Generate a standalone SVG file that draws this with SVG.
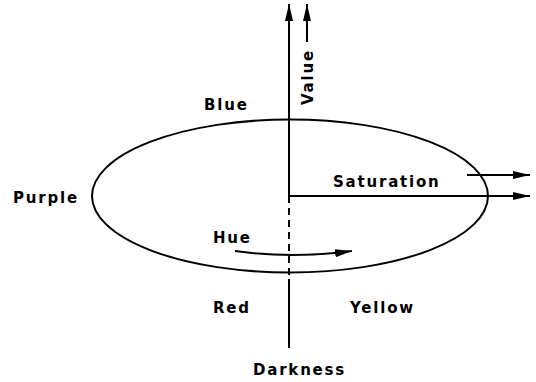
<svg xmlns="http://www.w3.org/2000/svg" width="536" height="382" viewBox="0 0 536 382">
<defs>
<marker id="ah" viewBox="0 0 17 9" refX="17" refY="4.5" markerWidth="17" markerHeight="9" markerUnits="userSpaceOnUse" orient="auto">
<path d="M0,0.5 L17,4.5 L0,8.5 Z" fill="#000"/>
</marker>
</defs>
<style>
text{font-family:"DejaVu Sans",sans-serif;font-size:15px;font-weight:bold;letter-spacing:1.8px;fill:#000}
.ln{stroke:#000;stroke-width:2;fill:none}
</style>
<rect width="536" height="382" fill="#fff"/>
<g id="ellipse"><ellipse class="ln" cx="290" cy="196" rx="198" ry="76.5"/></g>
<g id="connectors">
<line class="ln" x1="289" y1="196" x2="289" y2="4" marker-end="url(#ah)"/>
<line class="ln" x1="289" y1="196" x2="289" y2="276" stroke-dasharray="7,5"/>
<line class="ln" x1="289" y1="279" x2="289" y2="348"/>
<line class="ln" x1="307" y1="42" x2="307" y2="4" marker-end="url(#ah)"/>
<line class="ln" x1="289" y1="196" x2="530" y2="196" marker-end="url(#ah)"/>
<line class="ln" x1="467" y1="175" x2="530" y2="175" marker-end="url(#ah)"/>
<path class="ln" d="M235,251 Q292,259 352,251" marker-end="url(#ah)"/>
</g>
<g id="labels">
<text x="204" y="110">Blue</text>
<text x="13" y="203">Purple</text>
<text x="333" y="187">Saturation</text>
<text x="213" y="243">Hue</text>
<text x="213" y="313">Red</text>
<text x="350" y="313">Yellow</text>
<text x="253" y="375">Darkness</text>
<text transform="translate(313,105) rotate(-90)">Value</text>
</g>
</svg>
